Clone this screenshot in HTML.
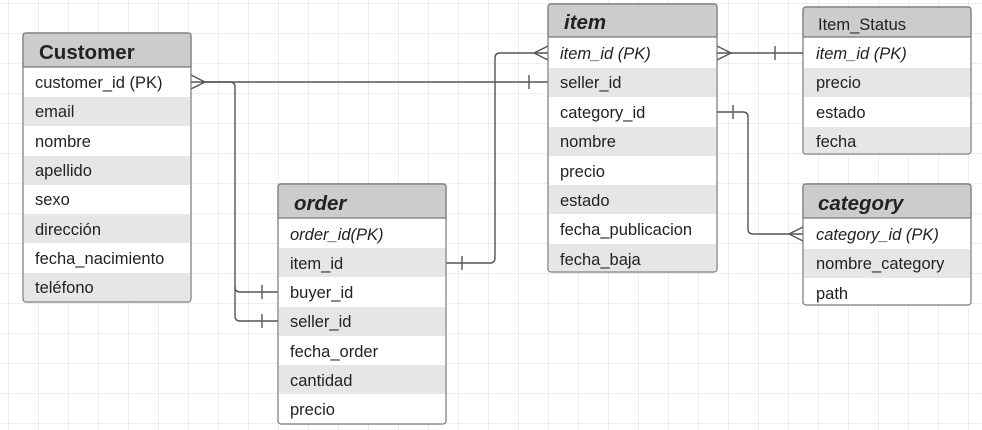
<!DOCTYPE html>
<html><head><meta charset="utf-8"><style>
body{margin:0;background:#fff}
svg{display:block}
text{font-family:"Liberation Sans","DejaVu Sans",sans-serif;font-size:16.5px;fill:#222}
.h{font-size:20.5px;font-weight:bold;font-style:italic}
.i{font-style:italic}
</style></head><body>
<svg width="982" height="430" viewBox="0 0 982 430" xmlns="http://www.w3.org/2000/svg">
<defs><pattern id="g" x="8" y="3" width="30" height="30" patternUnits="userSpaceOnUse"><path d="M0 0H30M0 0V30" stroke="#dcdcdc" stroke-width="1" fill="none"/></pattern></defs>
<rect width="982" height="430" fill="url(#g)"/>
<g stroke="#555" stroke-width="1.4" fill="none">
<path d="M191 82H548"/><path d="M191 75L205 82L191 89"/><path d="M529 75V89"/>
<path d="M205 82H230Q235 82 235 87V316Q235 321 240 321H278"/><path d="M235 287Q235 292 240 292H278"/>
<path d="M262 285V299M262 314V328"/>
<path d="M446 263H490Q495 263 495 258V58Q495 53 500 53H548"/><path d="M462 256V270"/><path d="M548 46L534 53L548 60"/>
<path d="M717 53H803"/><path d="M717 46L731 53L717 60"/><path d="M775 46V60"/>
<path d="M717 112H743Q748 112 748 117V229Q748 234 753 234H803"/><path d="M733 105V119"/><path d="M803 227L789 234L803 241"/>
</g>
<g stroke="#777" stroke-width="1.2">
<rect x="23" y="33" width="168" height="269" rx="3" fill="#fff"/>
<path d="M26 33H188Q191 33 191 36V67H23V36Q23 33 26 33Z" fill="#ccc"/>
<g stroke="none" fill="#e6e6e6"><rect x="24" y="97" width="166" height="29"/><rect x="24" y="156" width="166" height="29"/><rect x="24" y="214" width="166" height="29"/><rect x="24" y="273" width="166" height="28"/></g>
<rect x="278" y="184" width="168" height="240" rx="3" fill="#fff"/>
<path d="M281 184H443Q446 184 446 187V218H278V187Q278 184 281 184Z" fill="#ccc"/>
<g stroke="none" fill="#e6e6e6"><rect x="279" y="248" width="166" height="29"/><rect x="279" y="307" width="166" height="29"/><rect x="279" y="365" width="166" height="29"/></g>
<rect x="548" y="4" width="169" height="268" rx="3" fill="#fff"/>
<path d="M551 4H714Q717 4 717 7V37H548V7Q548 4 551 4Z" fill="#ccc"/>
<g stroke="none" fill="#e6e6e6"><rect x="549" y="68" width="167" height="29"/><rect x="549" y="127" width="167" height="29"/><rect x="549" y="185" width="167" height="29"/><rect x="549" y="244" width="167" height="27"/></g>
<rect x="803" y="7" width="168" height="147" rx="3" fill="#fff"/>
<path d="M806 7H968Q971 7 971 10V37H803V10Q803 7 806 7Z" fill="#ccc"/>
<g stroke="none" fill="#e6e6e6"><rect x="804" y="68" width="166" height="29"/><rect x="804" y="127" width="166" height="26"/></g>
<rect x="803" y="184" width="168" height="121" rx="3" fill="#fff"/>
<path d="M806 184H968Q971 184 971 187V218H803V187Q803 184 806 184Z" fill="#ccc"/>
<g stroke="none" fill="#e6e6e6"><rect x="804" y="249" width="166" height="29"/></g>
</g>
<text x="39" y="59" class="h" style="font-style:normal">Customer</text>
<text x="35" y="88">customer_id (PK)</text><text x="35" y="117">email</text><text x="35" y="147">nombre</text><text x="35" y="176">apellido</text><text x="35" y="205">sexo</text><text x="35" y="235">dirección</text><text x="35" y="264">fecha_nacimiento</text><text x="35" y="293">teléfono</text>
<text x="294" y="210" class="h">order</text>
<text x="290" y="240" class="i">order_id(PK)</text><text x="290" y="269">item_id</text><text x="290" y="298">buyer_id</text><text x="290" y="327">seller_id</text><text x="290" y="357">fecha_order</text><text x="290" y="386">cantidad</text><text x="290" y="415">precio</text>
<text x="564" y="29" class="h">item</text>
<text x="560" y="59" class="i">item_id (PK)</text><text x="560" y="88">seller_id</text><text x="560" y="118">category_id</text><text x="560" y="147">nombre</text><text x="560" y="177">precio</text><text x="560" y="206">estado</text><text x="560" y="235">fecha_publicacion</text><text x="560" y="265">fecha_baja</text>
<text x="818" y="30">Item_Status</text>
<text x="816" y="59" class="i">item_id (PK)</text><text x="816" y="88">precio</text><text x="816" y="118">estado</text><text x="816" y="147">fecha</text>
<text x="818" y="210" class="h">category</text>
<text x="816" y="240" class="i">category_id (PK)</text><text x="816" y="269">nombre_category</text><text x="816" y="299">path</text>
</svg>
</body></html>
